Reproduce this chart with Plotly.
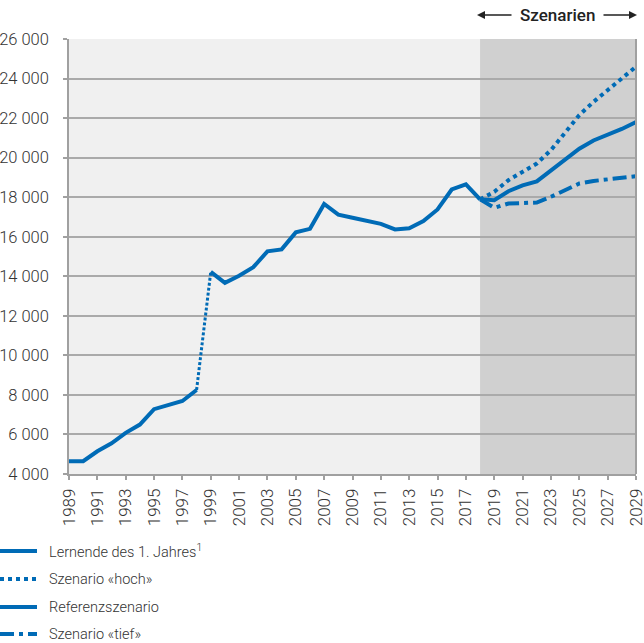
import plotly.graph_objects as go

# ---- data ----
years_hist = list(range(1989, 2019))
lernende = [4650, 4650, 5150, 5550, 6080, 6500, 7280, 7510, 7690, 8250,
            14220, 13670, 14030, 14460, 15260, 15360, 16220, 16400, 17660, 17120,
            16960, 16820, 16650, 16370, 16430, 16790, 17380, 18390, 18650, 17890]
years_scen = list(range(2018, 2030))
hoch = [17890, 18270, 18860, 19280, 19700, 20380, 21300, 22150, 22820, 23410, 24000, 24600]
referenz = [17890, 17850, 18300, 18600, 18800, 19350, 19850, 20450, 20870, 21150, 21450, 21800]
tief = [17890, 17460, 17680, 17730, 17730, 18020, 18350, 18690, 18820, 18890, 18980, 19060]
x_ticks = list(range(1989, 2030, 2))
legend_labels = ["Lernende des 1. Jahres<sup>1</sup>", "Szenario «hoch»", "Referenzszenario", "Szenario «tief»"]
scen_start, scen_end = 2018, 2029

BLUE = "#006bb6"
W = 4
TIEF_DASH = "14px,5px,4px,5px"
FONT = "Roboto"

fig = go.Figure()
i98 = years_hist.index(1998)
i99 = years_hist.index(1999)
fig.add_trace(go.Scatter(x=years_hist[:i98 + 1], y=lernende[:i98 + 1], mode="lines",
                         line=dict(color=BLUE, width=W), hoverinfo="skip"))
fig.add_trace(go.Scatter(x=years_hist[i98:i99 + 1], y=lernende[i98:i99 + 1], mode="lines",
                         line=dict(color=BLUE, width=3, dash="3px,2px"), hoverinfo="skip"))
fig.add_trace(go.Scatter(x=years_hist[i99:], y=lernende[i99:], mode="lines",
                         line=dict(color=BLUE, width=W), hoverinfo="skip"))
fig.add_trace(go.Scatter(x=years_scen, y=tief, mode="lines",
                         line=dict(color=BLUE, width=W, dash=TIEF_DASH), hoverinfo="skip"))
fig.add_trace(go.Scatter(x=years_scen, y=hoch, mode="lines",
                         line=dict(color=BLUE, width=W, dash="4px,4px"), hoverinfo="skip"))
fig.add_trace(go.Scatter(x=years_scen, y=referenz, mode="lines",
                         line=dict(color=BLUE, width=W), hoverinfo="skip"))

FW, FH = 644, 643
L, R, T, B = 69, 8, 39, 169
PW, PH = FW - L - R, FH - T - B

def px_x(px):  # window pixel -> paper
    return (px - L) / PW

def px_y(py):
    return (FH - B - py) / PH

shapes = [
    dict(type="rect", xref="x", yref="paper", x0=scen_start, x1=scen_end, y0=0, y1=1,
         fillcolor="#d0d0d0", line=dict(width=0), layer="below"),
    dict(type="line", xref="paper", yref="paper", x0=1, x1=1, y0=0, y1=1,
         line=dict(color="#a0a0a0", width=2)),
]
annotations = []
legend_styles = ["solid", "4px,4px", "solid", TIEF_DASH]
legend_y = [551, 579, 607, 634]
for lab, dsh, yy in zip(legend_labels, legend_styles, legend_y):
    shapes.append(dict(type="line", xref="paper", yref="paper", x0=px_x(0), x1=px_x(37),
                       y0=px_y(yy), y1=px_y(yy), line=dict(color=BLUE, width=W, dash=dsh)))
    annotations.append(dict(xref="paper", yref="paper", x=px_x(47), y=px_y(yy), text=lab,
                            showarrow=False, xanchor="left", yanchor="middle",
                            font=dict(family=FONT, size=14.5, color="#333333", weight=300)))

annotations.append(dict(xref="paper", yref="paper", x=px_x(557), y=px_y(15), text="Szenarien",
                        showarrow=False, xanchor="center", yanchor="middle",
                        font=dict(family=FONT, size=17, color="#222222", weight=500)))
annotations.append(dict(xref="paper", yref="paper", x=px_x(477), y=px_y(15), text="",
                        showarrow=True, ax=36, ay=0, axref="pixel", ayref="pixel",
                        arrowhead=2, arrowsize=1, arrowwidth=1.6, arrowcolor="#222222"))
annotations.append(dict(xref="paper", yref="paper", x=px_x(637), y=px_y(15), text="",
                        showarrow=True, ax=-35, ay=0, axref="pixel", ayref="pixel",
                        arrowhead=2, arrowsize=1, arrowwidth=1.6, arrowcolor="#222222"))

fig.update_layout(
    width=FW, height=FH,
    margin=dict(l=L, r=R, t=T, b=B, pad=0, autoexpand=False),
    paper_bgcolor="white", plot_bgcolor="#f0f0f0",
    showlegend=False,
    separators=". ",
    font=dict(family=FONT, size=14, color="#333333"),
    shapes=shapes, annotations=annotations,
    xaxis=dict(range=[1989, 2029], tickvals=x_ticks, tickangle=-90, showgrid=False,
               automargin=False, ticklabeloverflow="allow", ticklabelstandoff=2,
               ticks="outside", ticklen=4, tickcolor="#a0a0a0", tickwidth=1.5,
               showline=True, linecolor="#a0a0a0", linewidth=1.5, zeroline=False,
               tickfont=dict(family=FONT, size=17, color="#333333", weight=300)),
    yaxis=dict(range=[4000, 26000], dtick=2000, tickformat=",d", showgrid=True,
               automargin=False, ticklabeloverflow="allow",
               gridcolor="#aaaaaa", gridwidth=1.5, ticks="outside", ticklen=4,
               tickcolor="#a0a0a0", tickwidth=1.5, showline=True, linecolor="#a0a0a0",
               linewidth=1.5, zeroline=False, ticklabelstandoff=11,
               tickfont=dict(family=FONT, size=16.5, color="#333333", weight=300)),
)

# remove the browser's default 8px body margin so the figure sits at the window origin
fig.write_html("out.html", config={"displayModeBar": False},
               post_script="document.body.style.margin='0';")
